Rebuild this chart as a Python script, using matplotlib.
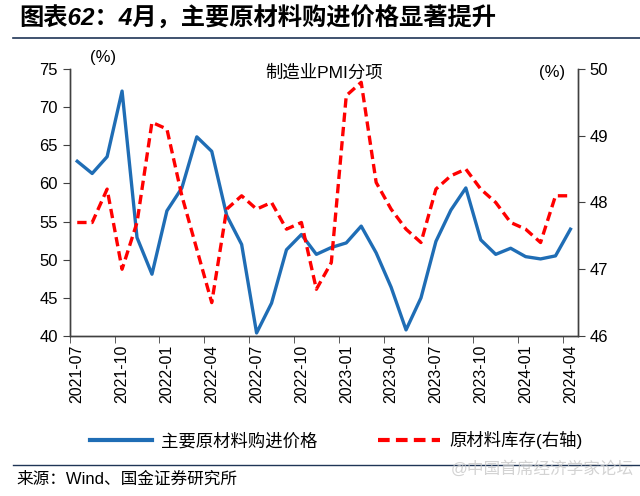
import numpy as np
import matplotlib.pyplot as plt
from matplotlib.lines import Line2D

plt.rcParams['font.family'] = ['Liberation Sans', 'Noto Sans CJK SC']

months = ['2021-07', '2021-08', '2021-09', '2021-10', '2021-11', '2021-12',
          '2022-01', '2022-02', '2022-03', '2022-04', '2022-05', '2022-06',
          '2022-07', '2022-08', '2022-09', '2022-10', '2022-11', '2022-12',
          '2023-01', '2023-02', '2023-03', '2023-04', '2023-05', '2023-06',
          '2023-07', '2023-08', '2023-09', '2023-10', '2023-11', '2023-12',
          '2024-01', '2024-02', '2024-03', '2024-04']
price = [62.9, 61.3, 63.5, 72.1, 52.9, 48.1, 56.4, 59.4, 66.1, 64.2, 55.8, 52.0,
         40.4, 44.3, 51.3, 53.3, 50.7, 51.6, 52.2, 54.4, 50.9, 46.4, 40.8, 45.0,
         52.4, 56.5, 59.4, 52.6, 50.7, 51.5, 50.4, 50.1, 50.5, 54.0]
stock = [47.7, 47.7, 48.2, 47.0, 47.7, 49.2, 49.1, 48.1, 47.3, 46.5, 47.9, 48.1,
         47.9, 48.0, 47.6, 47.7, 46.7, 47.1, 49.6, 49.8, 48.3, 47.9, 47.6, 47.4,
         48.2, 48.4, 48.5, 48.2, 48.0, 47.7, 47.6, 47.4, 48.1, 48.1]

blue = '#1f6db5'
red = '#ff0000'
axis_c = '#404040'
dash = (0, (2.8, 1.5))

fig = plt.figure(figsize=(6.4, 4.96), dpi=100)
ax = fig.add_axes([0.109, 0.3226, 0.794, 0.5384])
ax2 = ax.twinx()

x = np.arange(len(months))
ax.plot(x, price, color=blue, lw=2.4, zorder=3)
ax2.plot(x, stock, color=red, lw=2.4, ls=dash)

ax.set_xlim(-0.5, len(months) - 0.5)
ax.set_ylim(40, 75)
ax.set_yticks(np.arange(40, 76, 5))
ax2.set_ylim(46, 50)
ax2.set_yticks(np.arange(46, 51, 1))

ax.set_xticks(x[::3])
ax.set_xticklabels(months[::3], rotation=90, fontsize=11.5)
ax.set_xticks(np.arange(-0.5, len(months), 3), minor=True)
ax.tick_params(axis='x', which='major', length=0, pad=6)
ax.tick_params(axis='x', which='minor', length=5, color=axis_c, direction='out')
ax.tick_params(axis='y', labelsize=12, length=5, color=axis_c)
ax2.tick_params(axis='y', labelsize=12, length=5, color=axis_c)

for a in (ax, ax2):
    a.spines['top'].set_visible(False)
    for s in ('left', 'right', 'bottom'):
        a.spines[s].set_color(axis_c)
        a.spines[s].set_linewidth(1.0)

ax.text(0.04, 1.015, '(%)', transform=ax.transAxes, fontsize=12, ha='left', va='bottom')
ax2.text(0.975, 0.985, '(%)', transform=ax.transAxes, fontsize=12, ha='right', va='center')
ax.text(0.5, 0.985, '制造业PMI分项', transform=ax.transAxes, fontsize=12.5,
        ha='center', va='center')

handles = [Line2D([], [], color=blue, lw=3),
           Line2D([], [], color=red, lw=3, ls=dash)]
fig.legend(handles, ['主要原材料购进价格', '原材料库存(右轴)'], loc='center',
           bbox_to_anchor=(0.525, 0.112), ncol=2, frameon=False, fontsize=12.5,
           handlelength=3.6, columnspacing=3.5, handletextpad=0.5)

fig.text(0.03, 0.963, '图表62：4月，主要原材料购进价格显著提升', fontsize=17.5,
         fontweight='bold', ha='left', va='center', style='italic')
fig.add_artist(Line2D([0.02, 1.0], [0.923, 0.923], color='#1f3556', lw=1.2))
fig.add_artist(Line2D([0.02, 1.0], [0.062, 0.062], color='#1f3556', lw=1.0))
fig.text(0.025, 0.035, '来源：Wind、国金证券研究所', fontsize=12, ha='left', va='center')
fig.text(0.99, 0.055, '@中国首席经济学家论坛', fontsize=12, ha='right', va='center',
         color='#c8c8c8', alpha=0.8)

fig.savefig('out.png', dpi=100)
